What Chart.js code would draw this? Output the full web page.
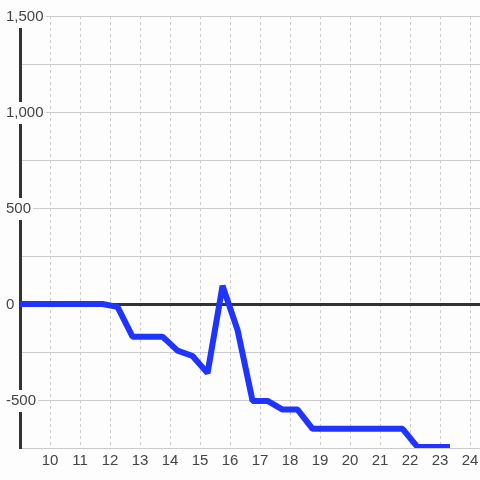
<!DOCTYPE html>
<html>
<head>
<meta charset="utf-8">
<script src="https://cdn.jsdelivr.net/npm/chart.js@4"></script>
<style>
  html, body { margin: 0; padding: 0; background: #fcfdfc; }
  #wrap { width: 480px; height: 480px; }
</style>
</head>
<body>
<div id="wrap"><canvas id="chart"></canvas></div>
<script>
// series (x = hour of day)
const hours = [9, 11.75, 12.25, 12.75, 13.75, 14.25, 14.75, 15.25, 15.75, 16.25, 16.75, 17.25, 17.75, 18.25, 18.75, 21.75, 22.25, 23.33];
const values = [0, 0, -15, -170, -170, -243, -271, -360, 95, -135, -505, -505, -550, -550, -650, -650, -745, -745];

const xTickValues = [10, 11, 12, 13, 14, 15, 16, 17, 18, 19, 20, 21, 22, 23, 24];
const yLabelValues = [1500, 1000, 500, 0, -500];

const bg = '#fcfdfc';
const tickFont = { family: "'Liberation Sans', Arial, sans-serif", size: 15 };

const points = hours.map((h, i) => ({ x: h, y: values[i] }));

const ctx = document.querySelector('#chart').getContext('2d');

new Chart(ctx, {
    type: 'line',
    data: {
        datasets: [{
            data: points,
            borderColor: 'rgb(32, 52, 255)',
            borderWidth: 6,
            borderJoinStyle: 'bevel',
            pointRadius: 0,
            tension: 0,
            fill: false
        }]
    },
    options: {
        responsive: true,
        maintainAspectRatio: false,
        animation: false,
        layout: { padding: { top: 16, left: 5, right: 0, bottom: 0 } },
        plugins: {
            legend: { display: false },
            tooltip: { enabled: false }
        },
        scales: {
            x: {
                type: 'linear',
                min: 9,
                max: 24.33,
                afterBuildTicks: scale => {
                    scale.ticks = xTickValues.map(v => ({ value: v }));
                },
                afterFit: scale => {
                    scale.height = 32;
                    // no extra room for the last label, plot runs to the edge
                    scale.paddingLeft = 0;
                    scale.paddingRight = 0;
                },
                grid: { color: '#ccc', lineWidth: 1, drawTicks: false },
                border: { color: '#ccc', width: 1, dash: [3, 3] },
                ticks: {
                    color: '#444',
                    font: tickFont,
                    padding: 4,
                    autoSkip: false,
                    maxRotation: 0
                }
            },
            y: {
                min: -750,
                max: 1500,
                afterFit: scale => { scale.width = 15; },
                grid: {
                    color: c => (c.tick && c.tick.value === 0) ? '#333' : '#ccc',
                    lineWidth: c => (c.tick && c.tick.value === 0) ? 3 : 1,
                    drawTicks: false
                },
                border: { color: '#333', width: 3 },
                ticks: {
                    stepSize: 250,
                    color: '#444',
                    font: tickFont,
                    mirror: true,
                    crossAlign: 'near',
                    padding: -14,
                    labelOffset: 1,
                    showLabelBackdrop: c => !!c.tick && yLabelValues.includes(c.tick.value),
                    backdropColor: bg,
                    backdropPadding: 2,
                    callback: v => yLabelValues.includes(v) ? v.toLocaleString('en-US') : ''
                }
            }
        }
    }
});
</script>
</body>
</html>
